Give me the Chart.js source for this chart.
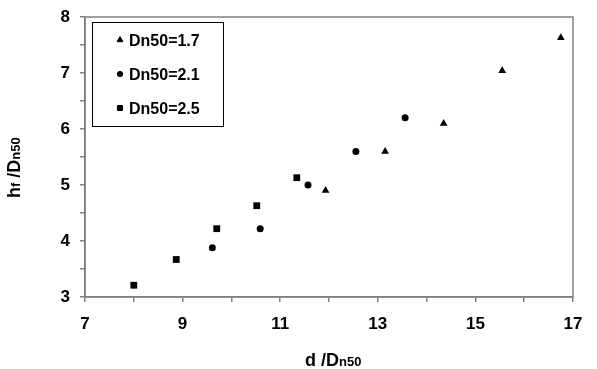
<!DOCTYPE html>
<html>
<head>
<meta charset="utf-8">
<script src="https://cdn.jsdelivr.net/npm/chart.js@4.4.1/dist/chart.umd.min.js"></script>
<style>
  html, body { margin: 0; padding: 0; background: #fff; }
  #wrap { width: 597px; height: 369px; }
</style>
</head>
<body>
<div id="wrap"><canvas id="chart"></canvas></div>
<script>
// d/Dn50 and hf/Dn50
const x17 = [11.93, 13.15, 14.35, 15.55, 16.75];
const y17 = [4.90, 5.60, 6.10, 7.04, 7.63];
const x21 = [9.61, 10.59, 11.57, 12.55, 13.56];
const y21 = [3.88, 4.22, 5.00, 5.60, 6.20];
const x25 = [8.00, 8.87, 9.70, 10.52, 11.34];
const y25 = [3.21, 3.67, 4.22, 4.63, 5.13];
const seriesLabels = ['Dn50=1.7', 'Dn50=2.1', 'Dn50=2.5'];
const xTicks = [7, 9, 11, 13, 15, 17];
const yTicks = [3, 4, 5, 6, 7, 8];

const FONT = '"Liberation Sans", Arial, sans-serif';
const toPts = (xs, ys) => xs.map((x, i) => ({ x: x, y: ys[i] }));

const frame = {
    id: 'frame',
    beforeDatasetsDraw(chart) {
        const { ctx, chartArea: a } = chart;
        ctx.save();
        ctx.strokeStyle = '#808080';
        ctx.lineWidth = 1.5;
        ctx.strokeRect(a.left, a.top, a.right - a.left, a.bottom - a.top);
        ctx.restore();
    },
    afterDraw(chart) {
        const ctx = chart.ctx;
        ctx.save();
        ctx.fillStyle = '#000';
        ctx.textBaseline = 'alphabetic';

        // legend box
        const lx = 92, ly = 22, lw = 131, lh = 104;
        ctx.strokeStyle = '#000';
        ctx.lineWidth = 1;
        ctx.strokeRect(lx + 0.5, ly + 0.5, lw, lh);
        const rows = [40, 74, 108];
        chart.data.datasets.forEach((ds, i) => {
            Chart.helpers.drawPoint(ctx, {
                pointStyle: ds.pointStyle, radius: ds.pointRadius * 0.75,
                borderWidth: 1
            }, 120, rows[i]);
            ctx.fillStyle = '#000';
            ctx.font = 'bold 16px ' + FONT;
            ctx.textAlign = 'left';
            ctx.fillText(ds.label, 129, rows[i] + 6);
        });

        // x title: d /Dn50
        let x = 305, y = 366;
        [['d /D', 18], ['n50', 13]].forEach(([t, s]) => {
            ctx.font = 'bold ' + s + 'px ' + FONT;
            ctx.fillText(t, x, y);
            x += ctx.measureText(t).width;
        });

        // y title: hf /Dn50 (rotated)
        ctx.translate(20, 198);
        ctx.rotate(-Math.PI / 2);
        x = 0;
        [['h', 18], ['f', 13], [' /D', 18], ['n50', 13]].forEach(([t, s]) => {
            ctx.font = 'bold ' + s + 'px ' + FONT;
            ctx.fillText(t, x, 0);
            x += ctx.measureText(t).width;
        });
        ctx.restore();
    }
};

const tickOpts = (labels, pad, lh) => ({
    autoSkip: false,
    color: '#000',
    padding: pad,
    font: { family: FONT, size: 17, weight: 'bold', lineHeight: lh },
    callback: (v) => labels.includes(v) ? String(v) : ''
});

new Chart(document.getElementById('chart'), {
    type: 'scatter',
    data: {
        datasets: [
            { label: seriesLabels[0], data: toPts(x17, y17), pointStyle: 'triangle', pointRadius: 4.5 },
            { label: seriesLabels[1], data: toPts(x21, y21), pointStyle: 'circle', pointRadius: 3.5 },
            { label: seriesLabels[2], data: toPts(x25, y25), pointStyle: 'rect', pointRadius: 4.8 }
        ].map(d => ({ ...d, backgroundColor: '#000', borderColor: '#000', borderWidth: 0, pointHoverRadius: d.pointRadius }))
    },
    options: {
        responsive: true,
        maintainAspectRatio: false,
        animation: false,
        layout: { padding: { left: 0, right: 24, top: 17, bottom: 0 } },
        plugins: { legend: { display: false }, tooltip: { enabled: false } },
        scales: {
            x: {
                type: 'linear', min: 7, max: 17,
                ticks: { ...tickOpts(xTicks, 12, 1.2), stepSize: 1, maxRotation: 0 },
                grid: { drawOnChartArea: false, drawTicks: true, tickLength: 5, color: '#808080', lineWidth: 1.5 },
                border: { color: '#808080', width: 1.5 },
                afterFit: (s) => { s.height = 72; }
            },
            y: {
                type: 'linear', min: 3, max: 8,
                ticks: { ...tickOpts(yTicks, 10, 0.8), stepSize: 0.5 },
                grid: { drawOnChartArea: false, drawTicks: true, tickLength: 5, color: '#808080', lineWidth: 1.5 },
                border: { color: '#808080', width: 1.5 },
                afterFit: (s) => { s.width = 85; }
            }
        }
    },
    plugins: [frame]
});
</script>
</body>
</html>
